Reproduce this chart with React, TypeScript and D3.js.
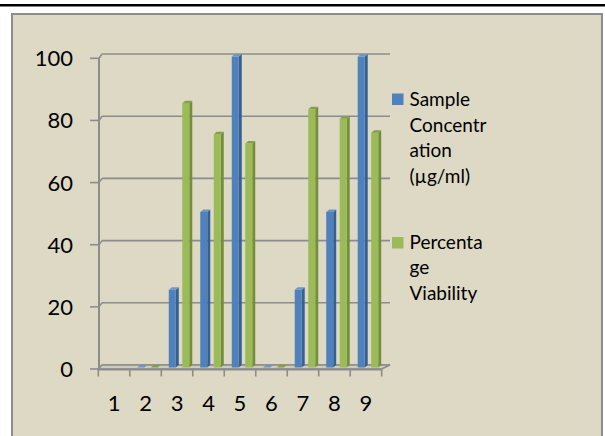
import React from "react";
import * as d3 from "d3";

// Categories along the x axis
const categories = ["1", "2", "3", "4", "5", "6", "7", "8", "9"];
// Series
const seriesKeys = ["concentration", "viability"];
const concentration: (number | null)[] = [null, 0, 25, 50, 100, 0, 25, 50, 100];
const viability: (number | null)[] = [null, 0, 85, 75, 72, 0, 83, 80, 75.5];
const yTicks = [0, 20, 40, 60, 80, 100];
// Legend labels, wrapped as in the chart
const concentrationLabel = ["Sample", "Concentr", "ation", "(µg/ml)"];
const viabilityLabel = ["Percenta", "ge", "Viability"];

const W = 605;
const H = 436;
const FONT = "Lato, 'Open Sans', 'DejaVu Sans', sans-serif";

const colors: Record<string, { face: string; side: string; top: string }> = {
  concentration: { face: "#4F81BD", side: "#36608F", top: "#6F95C6" },
  viability: { face: "#9BBB59", side: "#738E3C", top: "#849F48" },
};

export default function App() {
  // front plane of the 3D box
  const x = d3.scaleBand<string>().domain(categories).range([98.3, 381.7]).padding(0);
  const yFront = d3.scaleLinear().domain([0, 100]).range([369, 58.3]);
  // back wall
  const xBackStart = 102;
  const xBackEnd = 390;
  const yBack = d3.scaleLinear().domain([0, 100]).range([365, 54]);
  // bars sit in the middle of the depth
  const yBar = d3.scaleLinear().domain([0, 100]).range([367.5, 56.5]);
  const inner = d3.scaleBand<string>().domain(seriesKeys).range([3.5, 24]).paddingInner(0.4815).paddingOuter(0);
  const ox = 4;
  const dx = 3;
  const dy = -2.5;

  const seriesData: Record<string, (number | null)[]> = { concentration, viability };
  const grid = "#8C8C8C";

  const bars: React.ReactNode[] = [];
  categories.forEach((c, i) => {
    seriesKeys.forEach((k) => {
      const v = seriesData[k][i];
      if (v === null || v === undefined) return;
      const x0 = (x(c) as number) + (inner(k) as number) + ox;
      const w = inner.bandwidth();
      const yt = yBar(v);
      const yb = yBar(0);
      const col = colors[k];
      bars.push(
        <g key={`${k}-${c}`}>
          <polygon
            points={`${x0 + w},${yt} ${x0 + w + dx},${yt + dy} ${x0 + w + dx},${yb + dy} ${x0 + w},${yb}`}
            fill={col.side}
          />
          <rect x={x0} y={yt} width={w} height={yb - yt} fill={col.face} />
          <polygon
            points={`${x0},${yt} ${x0 + dx},${yt + dy} ${x0 + w + dx},${yt + dy} ${x0 + w},${yt}`}
            fill={col.top}
          />
        </g>
      );
    });
  });

  const xEdges = categories.map((c) => x(c) as number).concat([x.range()[1]]);

  return (
    <svg
      width={W}
      height={H}
      viewBox={`0 0 ${W} ${H}`}
      style={{ position: "absolute", left: 0, top: 0, display: "block" }}
      fontFamily={FONT}
    >
      <rect x={0} y={0} width={W} height={H} fill="#FFFFFF" />
      <rect x={0} y={4} width={W} height={2.5} fill="#000000" />
      <rect x={12} y={14} width={590} height={440} fill="#DDD9C4" stroke="#8C8C8C" strokeWidth={2} />

      {/* back wall gridlines and their run across the side wall */}
      {yTicks.map((t) => (
        <g key={`g${t}`}>
          <line x1={xBackStart} x2={xBackEnd} y1={yBack(t)} y2={yBack(t)} stroke={grid} strokeWidth={1.6} />
          <line x1={99} x2={xBackStart} y1={yFront(t)} y2={yBack(t)} stroke={grid} strokeWidth={1.6} />
        </g>
      ))}

      {/* floor */}
      <polygon
        points={`${x.range()[0]},369 ${x.range()[1]},369 ${xBackEnd},365 ${xBackStart},365`}
        fill="#CFCBB6"
        stroke={grid}
        strokeWidth={1.5}
      />

      {bars}

      {/* value axis */}
      <line x1={99} x2={99} y1={yFront(100)} y2={yFront(0)} stroke={grid} strokeWidth={2} />
      {yTicks.map((t) => (
        <g key={`t${t}`}>
          <line x1={90} x2={99} y1={yFront(t)} y2={yFront(t)} stroke={grid} strokeWidth={1.6} />
          <text x={73} y={yFront(t) + 8} textAnchor="end" fontSize={22} fill="#000">
            {t}
          </text>
        </g>
      ))}

      {/* category axis */}
      <line x1={x.range()[0]} x2={x.range()[1]} y1={369.5} y2={369.5} stroke={grid} strokeWidth={2} />
      {xEdges.map((e, i) => (
        <line key={`xt${i}`} x1={e} x2={e} y1={369} y2={376.5} stroke={grid} strokeWidth={1.6} />
      ))}
      {categories.map((c) => (
        <text key={`xl${c}`} x={(x(c) as number) + x.bandwidth() / 2} y={411} textAnchor="middle" fontSize={22} fill="#000">
          {c}
        </text>
      ))}

      {/* legend */}
      <rect x={392} y={93.5} width={11.5} height={11.5} fill={colors.concentration.face} />
      {concentrationLabel.map((s, i) => (
        <text key={`lc${i}`} x={409.5} y={106 + i * 25.7} fontSize={19} fill="#000">
          {s}
        </text>
      ))}
      <rect x={392} y={237} width={11.5} height={11.5} fill={colors.viability.face} />
      {viabilityLabel.map((s, i) => (
        <text key={`lv${i}`} x={409.5} y={248.5 + i * 25.9} fontSize={19} fill="#000">
          {s}
        </text>
      ))}
    </svg>
  );
}
